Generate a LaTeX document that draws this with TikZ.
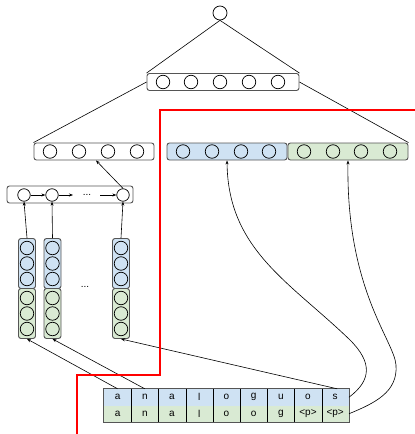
\documentclass[tikz,border=0pt]{standalone}
\usepackage{fontspec}
\setmainfont{Liberation Sans}
\usetikzlibrary{arrows.meta,calc}
\definecolor{cblue}{HTML}{CFE2F3}
\definecolor{cgreen}{HTML}{D9EAD3}
\definecolor{bord}{HTML}{555555}
\begin{document}
\begin{tikzpicture}[x=1pt,y=-1pt,
 bar/.style={draw=bord,line width=0.9pt,rounded corners=2.5pt,minimum height=17pt,inner sep=0pt},
 unit/.style={circle,draw=black,line width=0.75pt,minimum size=13.5pt,inner sep=0pt},
 seg/.style={draw=bord,line width=0.9pt,rounded corners=2.5pt,minimum width=17pt,inner sep=0pt},
 cell/.style={minimum width=27.2pt,minimum height=16.5pt,inner sep=0pt,font=\fontsize{10}{11}\selectfont},
 arr/.style={-{Stealth[length=4pt,width=3pt]},line width=0.6pt},
 ln/.style={line width=0.6pt},
 redline/.style={draw=red,line width=1.6pt},
 dots/.style={font=\fontsize{10}{11}\selectfont,inner sep=0pt}]
\useasboundingbox (0,0) rectangle (415,434);

% top
\node[unit,minimum size=14pt] (tc) at (220,13) {};
\node[bar,fill=white,minimum width=152pt] (tb) at (223,82) {};
\foreach \x [count=\i] in {163,191,220,249,278} \node[unit] (tb\i) at (\x,82) {};

% second level bars
\node[bar,fill=white,minimum width=120pt] (lb) at (94,151.5) {};
\foreach \x [count=\i] in {50,79,108,137} \node[unit] (lb\i) at (\x,151.5) {};
\node[bar,fill=cblue,minimum width=120pt] (bb) at (227,151.5) {};
\foreach \x [count=\i] in {183,212,241,269} \node[unit] (bb\i) at (\x,151.5) {};
\node[bar,fill=cgreen,minimum width=120pt] (gb) at (348,151.5) {};
\foreach \x [count=\i] in {304,333,361,390} \node[unit] (gb\i) at (\x,151.5) {};

\draw[ln] (tc.south) -- (tb.north west);
\draw[ln] (tc.south) -- (tb.north east);
\draw[ln] (tb.west) -- (lb.north west);
\draw[ln] (tb.east) -- (gb.north east);

% RNN bar
\node[bar,fill=white,minimum width=126pt] (rb) at (70,194.5) {};
\node[unit,minimum size=12.5pt] (r1) at (24,195) {};
\node[unit,minimum size=12.5pt] (r2) at (52,195) {};
\node[unit,minimum size=12.5pt] (r3) at (123,195) {};
\coordinate (ra) at (73,195);
\coordinate (rc) at (100,195);
\node[dots] (rdots) at (87,195) {...};
\draw[arr] (r1) -- (r2);
\draw[arr] (r2) -- (ra);
\draw[arr] (rc) -- (r3);
\draw[arr] (r3.north) -- ([xshift=2pt]lb.south);

% columns
\foreach \x [count=\c] in {27,52.5,121} {
  \node[seg,fill=cblue,minimum height=50pt] (c\c b) at (\x,263.5) {};
  \node[seg,fill=cgreen,minimum height=50pt] (c\c g) at (\x,313.5) {};
  \foreach \y [count=\k] in {248,263.5,279} \node[unit] (c\c b\k) at (\x,\y) {};
  \foreach \y [count=\k] in {298,313.5,329} \node[unit] (c\c g\k) at (\x,\y) {};
}
\node[dots] (cdots) at (85,287) {...};
\draw[arr] (c1b.north) -- (r1.south);
\draw[arr] (c2b.north) -- (r2.south);
\draw[arr] (c3b.north) -- (r3.south);

% table
\foreach \t [count=\i] in {a,n,a,l,o,g,u,o,s}
  \node[cell,fill=cblue] (t\i) at ({104+27.2*(\i-0.5)},397.25) {\t};
\foreach \t [count=\i] in {a,n,a,l,o,o,g,{<p>},{<p>}}
  \node[cell,fill=cgreen] (b\i) at ({104+27.2*(\i-0.5)},413.75) {\t};
\draw[draw=bord,line width=0.8pt] (t1.north west) rectangle (b9.south east);
\foreach \i in {1,...,8} \draw[line width=0.6pt] (t\i.north east) -- (b\i.south east);

\draw[arr] (t1.north) -- (c1g.south);
\draw[arr] (t2.north) -- (c2g.south);
\draw[arr] ([xshift=2pt]t9.north) -- (c3g.south);

\draw[arr] (t9.east) .. controls (372,380) and (372,362) .. (350,340)
   .. controls (290,282) and (228,250) .. (bb.south);
\draw[arr] (b9.east) .. controls (375,403) and (398,392) .. (396,365)
   .. controls (394,340) and (346,290) .. (gb.south);

% red line
\draw[redline] (415,110) -- (160,110) -- (160,375) -- (77,375) -- (77,434);
\end{tikzpicture}
\end{document}
